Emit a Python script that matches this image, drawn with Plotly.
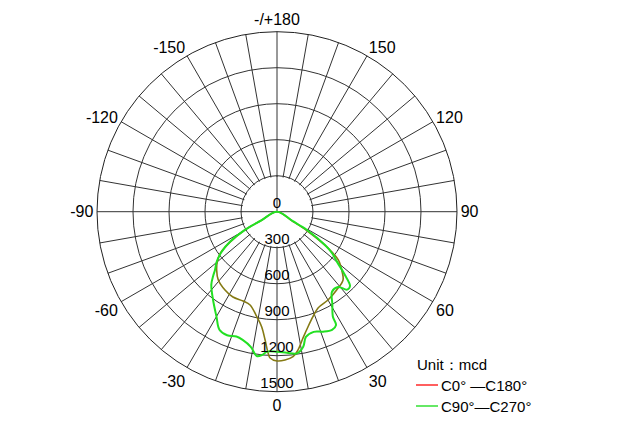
import plotly.graph_objects as go

# ---- data ----
angle_ticks = [0, 30, 60, 90, 120, 150, 180, 210, 240, 270, 300, 330]
angle_labels = ["0", "30", "60", "90", "120", "150", "-/+180", "-150", "-120", "-90", "-60", "-30"]
radial_ticks = [0, 300, 600, 900, 1200, 1500]
radial_labels = ["0", "300", "600", "900", "1200", "1500"]

c0_theta = [-90, -61, -60.5, -57.2, -54, -50.4, -46, -40.7, -33.6, -27.3, -20.8, -16.1, -10.9, -7.6,
            -5.3, -3.6, -2.7, 0, 3.1, 6.3, 8.6, 11.6, 15.1, 18.9, 23.1, 30, 37.3, 44, 47.5, 51.8,
            54.5, 57.5, 58.6, 90]
c0_r = [0, 150, 300, 460, 580, 644, 699, 750, 783, 800, 796, 809, 891, 967,
        1074, 1180, 1221, 1244, 1238, 1216, 1166, 1075, 993, 925, 872, 850, 820, 792, 735, 650,
        525, 300, 150, 0]

c90_theta = [-90, -61, -60.5, -57.4, -54.1, -50.3, -46.8, -45, -42, -36, -30, -26, -22, -18, -15, -11,
             -8, -6, -4, 0, 4, 8, 11, 13, 17, 21, 25, 27.5, 28, 31, 34.5, 39, 42, 44.5, 47, 50.2,
             53, 55.2, 58.6, 59, 90]
c90_r = [0, 150, 307, 465, 569, 653, 709, 750, 818, 907, 1009, 1094, 1110, 1094, 1106, 1147,
         1214, 1201, 1169, 1167, 1178, 1192, 1146, 1071, 1047, 1071, 1086, 1065, 992, 895, 809, 808,
         874, 868, 774, 650, 575, 487, 293, 150, 0]

series_names = ["C0° —C180°", "C90°—C270°"]
legend_title = "Unit：mcd"
legend_colors = ["#ff2a2a", "#33e033"]
curve_colors = ["#857a14", "#22e022"]

GRID = "#333333"
FONT = "Liberation Sans, Arial, sans-serif"
inner_r = radial_ticks[1]

fig = go.Figure()

# white disc hiding spokes inside the first ring
disc_theta = list(range(0, 361, 5))
fig.add_trace(go.Scatterpolar(r=[inner_r * 0.965] * len(disc_theta), theta=disc_theta, mode="lines",
                              fill="toself", fillcolor="white", line=dict(color="white", width=0),
                              showlegend=False, hoverinfo="skip"))
# cross lines inside the inner ring
fig.add_trace(go.Scatterpolar(r=[inner_r, 0, inner_r], theta=[90, 0, 270], mode="lines",
                              line=dict(color=GRID, width=1), showlegend=False, hoverinfo="skip"))
fig.add_trace(go.Scatterpolar(r=[0, inner_r], theta=[180, 180], mode="lines",
                              line=dict(color=GRID, width=1), showlegend=False, hoverinfo="skip"))

# curves
fig.add_trace(go.Scatterpolar(r=c0_r, theta=c0_theta, mode="lines", name=series_names[0],
                              line=dict(color=curve_colors[0], width=1.6, shape="spline"),
                              showlegend=False))
fig.add_trace(go.Scatterpolar(r=c90_r, theta=c90_theta, mode="lines", name=series_names[1],
                              line=dict(color=curve_colors[1], width=2, shape="spline"),
                              showlegend=False))

# radial labels
fig.add_trace(go.Scatterpolar(r=radial_ticks, theta=[0] * len(radial_ticks), mode="text",
                              text=radial_labels, textposition="top center",
                              textfont=dict(size=15, color="black", family=FONT),
                              showlegend=False, hoverinfo="skip"))

grid_vals = list(range(0, 360, 10))
grid_text = [angle_labels[angle_ticks.index(v)] if v in angle_ticks else "" for v in grid_vals]

W, H = 626, 440
cx, cy, R = 277, 211.7, 180


def px(x):
    return x / W


def py(y):
    return 1 - y / H


# hand-drawn legend
annotations = [dict(text=legend_title, x=px(415), y=py(364), xref="paper", yref="paper",
                    xanchor="left", yanchor="middle", showarrow=False,
                    font=dict(size=15, family=FONT, color="black"))]
shapes = []
for i, (name, col) in enumerate(zip(series_names, legend_colors)):
    yy = 385 + 21 * i
    shapes.append(dict(type="line", xref="paper", yref="paper", x0=px(416), x1=px(438),
                       y0=py(yy), y1=py(yy), line=dict(color=col, width=1.5)))
    annotations.append(dict(text=name, x=px(439), y=py(yy), xref="paper", yref="paper",
                            xanchor="left", yanchor="middle", showarrow=False,
                            font=dict(size=15, family=FONT, color="black")))

fig.update_layout(
    width=W, height=H,
    margin=dict(l=0, r=0, t=0, b=0),
    paper_bgcolor="white",
    showlegend=False,
    font=dict(family=FONT, color="black"),
    polar=dict(
        domain=dict(x=[(cx - R) / W, (cx + R) / W], y=[1 - (cy + R) / H, 1 - (cy - R) / H]),
        bgcolor="white",
        angularaxis=dict(rotation=270, direction="counterclockwise",
                         tickmode="array", tickvals=grid_vals, ticktext=grid_text,
                         ticks="", showgrid=True, gridcolor=GRID, gridwidth=1,
                         showline=True, linecolor="#222", linewidth=1,
                         tickfont=dict(size=16, color="black")),
        radialaxis=dict(range=[0, 1500], tickmode="array", tickvals=radial_ticks[1:],
                        showticklabels=False, ticks="", showline=False,
                        showgrid=True, gridcolor=GRID, gridwidth=1),
    ),
    annotations=annotations,
    shapes=shapes,
)

fig.write_html("out.html", config={"displayModeBar": False},
               post_script="document.body.style.margin='0';")
